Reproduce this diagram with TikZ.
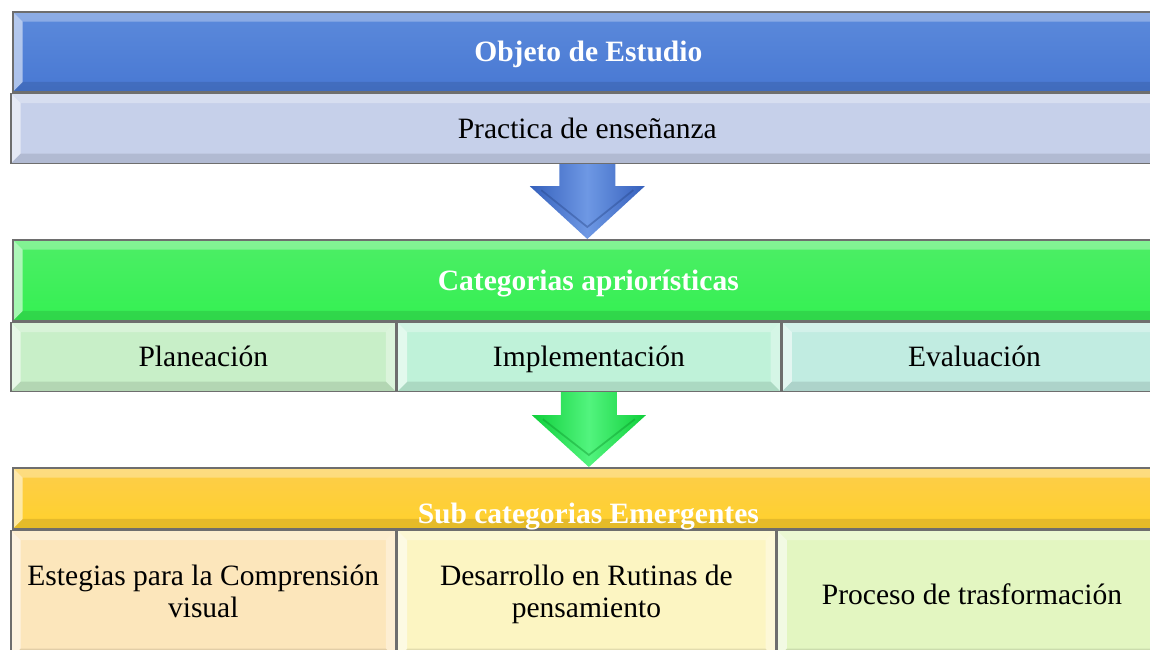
\documentclass[tikz,border=0pt]{standalone}
\usepackage{fontspec}
\setmainfont{Liberation Serif}
\usetikzlibrary{positioning}
\usetikzlibrary{calc}

\definecolor{frame}{HTML}{6E6E6E}
\definecolor{objtop}{HTML}{5C8ADB}
\definecolor{objbot}{HTML}{4878D3}
\definecolor{pracfill}{HTML}{C6D0EA}
\definecolor{cattop}{HTML}{4DEE66}
\definecolor{catbot}{HTML}{34F052}
\definecolor{planfill}{HTML}{C8EFC8}
\definecolor{implfill}{HTML}{BFF2D9}
\definecolor{evalfill}{HTML}{C1ECE1}
\definecolor{subtop}{HTML}{FDCD4A}
\definecolor{subbot}{HTML}{FFD12B}
\definecolor{estfill}{HTML}{FCE6BB}
\definecolor{desfill}{HTML}{FCF5C2}
\definecolor{profill}{HTML}{E3F6C1}
\definecolor{blueA}{HTML}{3560BC}
\definecolor{blueB}{HTML}{6E98E4}
\definecolor{greenA}{HTML}{0FCF3A}
\definecolor{greenB}{HTML}{52F47E}

\newcommand{\bevelw}{2.8pt}
\newcommand{\cellstrut}{\rule[-1.8pt]{0pt}{9.2pt}}

\tikzset{
 bevel/.style={path picture={
  \coordinate (bnw) at (path picture bounding box.north west);
  \coordinate (bne) at (path picture bounding box.north east);
  \coordinate (bsw) at (path picture bounding box.south west);
  \coordinate (bse) at (path picture bounding box.south east);
  \fill[white,opacity=.3] (bnw) -- (bne) -- ($(bne)+(-\bevelw,-\bevelw)$) -- ($(bnw)+(\bevelw,-\bevelw)$) -- cycle;
  \fill[black,opacity=.1] (bsw) -- (bse) -- ($(bse)+(-\bevelw,\bevelw)$) -- ($(bsw)+(\bevelw,\bevelw)$) -- cycle;
  \fill[white,opacity=.55] (bnw) -- ($(bnw)+(\bevelw,-\bevelw)$) -- ($(bsw)+(\bevelw,\bevelw)$) -- (bsw) -- cycle;
  \fill[white,opacity=.35] (bne) -- ($(bne)+(-\bevelw,-\bevelw)$) -- ($(bse)+(-\bevelw,\bevelw)$) -- (bse) -- cycle;
 }},
 cell/.style={draw=frame, line width=0.45pt, inner sep=0pt, bevel, align=center,
  font=\fontsize{8.4}{9.1}\selectfont, execute at begin node=\cellstrut, execute at end node=\cellstrut},
 title/.style={cell, text=white, font=\fontsize{8.4}{9.1}\selectfont\bfseries},
}

\begin{document}
\begin{tikzpicture}
\useasboundingbox (0,0) rectangle (11.5,-6.49);
\clip (0,0) rectangle (11.5,-6.49);

% first block
\node[title, top color=objtop, bottom color=objbot, minimum width=11.51cm, minimum height=0.8cm,
  anchor=north west] (obj) at (0.12,-0.11) {Objeto de Estudio};
\node[cell, fill=pracfill, minimum width=11.53cm, minimum height=0.7cm,
  below right=0pt and -0.02cm of obj.south west] (prac) {Practica de enseñanza};

% second block
\node[title, top color=cattop, bottom color=catbot, minimum width=11.51cm, minimum height=0.81cm,
  anchor=north west] (cat) at (0.12,-2.39) {Categorias apriorísticas};
\node[cell, fill=planfill, minimum width=3.85cm, minimum height=0.69cm,
  below right=0pt and -0.02cm of cat.south west] (plan) {Planeación};
\node[cell, fill=implfill, minimum width=3.83cm, minimum height=0.69cm, right=0pt of plan] (impl) {Implementación};
\node[cell, fill=evalfill, minimum width=3.85cm, minimum height=0.69cm, right=0pt of impl] (eval) {Evaluación};

% third block
\node[title, top color=subtop, bottom color=subbot, minimum width=11.51cm, minimum height=0.61cm,
  anchor=north west] (sub) at (0.12,-4.67) {};
\node[title, draw=none, path picture={}] (subtxt) at ($(sub.center)+(0,-0.15)$) {Sub categorias Emergentes};
\node[cell, fill=estfill, minimum width=3.85cm, minimum height=1.28cm,
  below right=0pt and -0.02cm of sub.south west] (est) {Estegias para la Comprensión\\visual};
\node[cell, fill=desfill, minimum width=3.78cm, minimum height=1.28cm, right=0pt of est] (des) {Desarrollo en Rutinas de\\pensamiento};
\node[cell, fill=profill, minimum width=3.90cm, minimum height=1.28cm, right=0pt of des] (pro) {Proceso de trasformación};

% arrows
\shade[left color=blueA, right color=blueA, middle color=blueB]
 ($(prac.south)+(-0.28,0)$) -- ($(prac.south)+(-0.28,-0.22)$) -- ($(prac.south)+(-0.575,-0.22)$)
 -- (prac.south |- cat.north) -- ($(prac.south)+(0.575,-0.22)$) -- ($(prac.south)+(0.28,-0.22)$)
 -- ($(prac.south)+(0.28,0)$) -- cycle;
\draw[blueA!70!black, opacity=.4, line width=0.5pt] ($(prac.south)+(-0.46,-0.26)$)
 -- ($(prac.south |- cat.north)+(0,0.12)$) -- ($(prac.south)+(0.46,-0.26)$);

\shade[left color=greenA, right color=greenA, middle color=greenB]
 ($(impl.south)+(-0.28,0)$) -- ($(impl.south)+(-0.28,-0.23)$) -- ($(impl.south)+(-0.57,-0.23)$)
 -- (impl.south |- sub.north) -- ($(impl.south)+(0.57,-0.23)$) -- ($(impl.south)+(0.28,-0.23)$)
 -- ($(impl.south)+(0.28,0)$) -- cycle;
\draw[greenA!70!black, opacity=.4, line width=0.5pt] ($(impl.south)+(-0.46,-0.27)$)
 -- ($(impl.south |- sub.north)+(0,0.12)$) -- ($(impl.south)+(0.46,-0.27)$);
\end{tikzpicture}
\end{document}
